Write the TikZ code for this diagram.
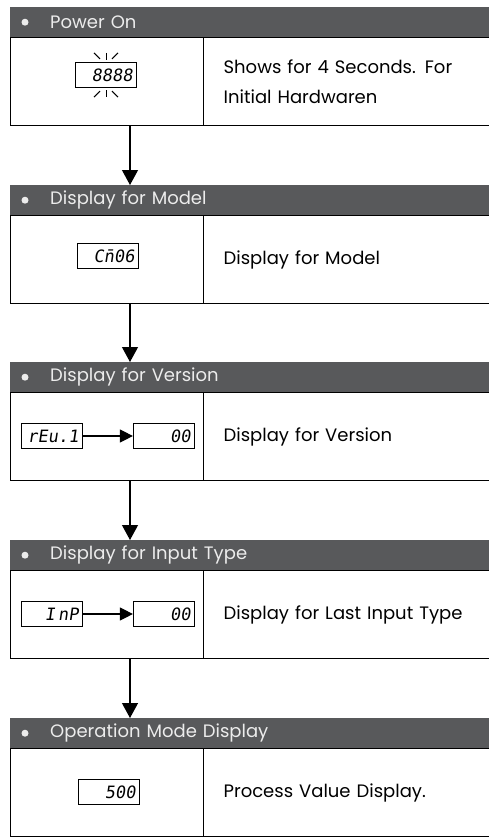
\documentclass[tikz,border=0pt]{standalone}
\usepackage{fontspec}
\setmainfont{Poppins}[WordSpace=1.6]
\newfontfamily\segfont[FakeSlant=0.15]{DejaVu Sans Mono}
\usetikzlibrary{arrows.meta,positioning}
\definecolor{headgray}{RGB}{88,89,91}
\definecolor{headtext}{RGB}{236,236,236}
\tikzset{
  header/.style={fill=headgray, text=headtext, anchor=north west, minimum width=485pt,
    minimum height=30pt, inner ysep=0pt, inner xsep=40pt, text width=445pt, align=left,
    font=\fontsize{18}{20}\selectfont},
  dot/.style={circle, fill=headtext, inner sep=0pt, minimum size=7pt},
  leftcell/.style={draw, line width=1.3pt, anchor=north west, minimum width=193pt,
    minimum height=88pt, inner sep=0pt},
  rightcell/.style={draw, line width=1.3pt, anchor=north west, minimum height=88pt,
    text width=262pt, inner xsep=20pt, align=left, font=\fontsize{18}{30}\selectfont},
  disp/.style={draw, line width=1.2pt, minimum height=25pt, text width=53pt,
    inner xsep=4pt, inner ysep=0pt, align=right, font=\segfont\fontsize{17}{17}\selectfont},
  flow/.style={-{Triangle[width=16pt,length=15pt]}, line width=1.2pt},
  shortflow/.style={-{Triangle[width=13pt,length=13pt]}, line width=1.2pt},
  ray/.style={line width=1pt}
}
\begin{document}
\begin{tikzpicture}[x=1pt,y=-1pt]
  \useasboundingbox (0,0) rectangle (489,840);

  % power on
  \node[header] (h1) at (10,7) {Power On};
  \node[dot] at ([xshift=15pt]h1.west) {};
  \node[leftcell] (l1) at (10,37) {};
  \node[rightcell] (r1) at (203,37) {Shows for 4 Seconds. For\\Initial Hardwaren};
  \node[disp] (d1) at (106,75) {8888};
  \draw[ray] ([shift={(0,-9)}]d1.north) -- ([shift={(0,-2)}]d1.north);
  \draw[ray] ([shift={(-12,-9)}]d1.north) -- ([shift={(-6,-3)}]d1.north);
  \draw[ray] ([shift={(12,-9)}]d1.north) -- ([shift={(6,-3)}]d1.north);
  \draw[ray] ([shift={(0,2)}]d1.south) -- ([shift={(0,9)}]d1.south);
  \draw[ray] ([shift={(-6,3)}]d1.south) -- ([shift={(-12,9)}]d1.south);
  \draw[ray] ([shift={(6,3)}]d1.south) -- ([shift={(12,9)}]d1.south);

  % model
  \node[header] (h2) at (10,185) {Display for Model};
  \node[dot] at ([xshift=15pt]h2.west) {};
  \node[leftcell] (l2) at (10,215) {};
  \node[rightcell] (r2) at (203,215) {Display for Model};
  \node[disp] (d2) at (108,256) {C\=n06};

  % version
  \node[header] (h3) at (10,362) {Display for Version};
  \node[dot] at ([xshift=15pt]h3.west) {};
  \node[leftcell] (l3) at (10,392) {};
  \node[rightcell] (r3) at (203,392) {Display for Version};
  \node[disp] (d3a) at (52,436) {rEu.1};
  \node[disp] (d3b) at (164,436) {00};
  \draw[shortflow] (d3a) -- (d3b);

  % input type
  \node[header] (h4) at (10,540) {Display for Input Type};
  \node[dot] at ([xshift=15pt]h4.west) {};
  \node[leftcell] (l4) at (10,570) {};
  \node[rightcell] (r4) at (203,570) {Display for Last Input Type};
  \node[disp] (d4a) at (52,614) {I\,nP};
  \node[disp] (d4b) at (164,614) {00};
  \draw[shortflow] (d4a) -- (d4b);

  % operation mode
  \node[header] (h5) at (10,718) {Operation Mode Display};
  \node[dot] at ([xshift=15pt]h5.west) {};
  \node[leftcell] (l5) at (10,748) {};
  \node[rightcell] (r5) at (203,748) {Process Value Display.};
  \node[disp] (d5) at (109,792) {500};

  % flow down
  \draw[flow] ([xshift=120pt]l1.south west) -- ([xshift=120pt]h2.north west);
  \draw[flow] ([xshift=120pt]l2.south west) -- ([xshift=120pt]h3.north west);
  \draw[flow] ([xshift=120pt]l3.south west) -- ([xshift=120pt]h4.north west);
  \draw[flow] ([xshift=120pt]l4.south west) -- ([xshift=120pt]h5.north west);
\end{tikzpicture}
\end{document}
